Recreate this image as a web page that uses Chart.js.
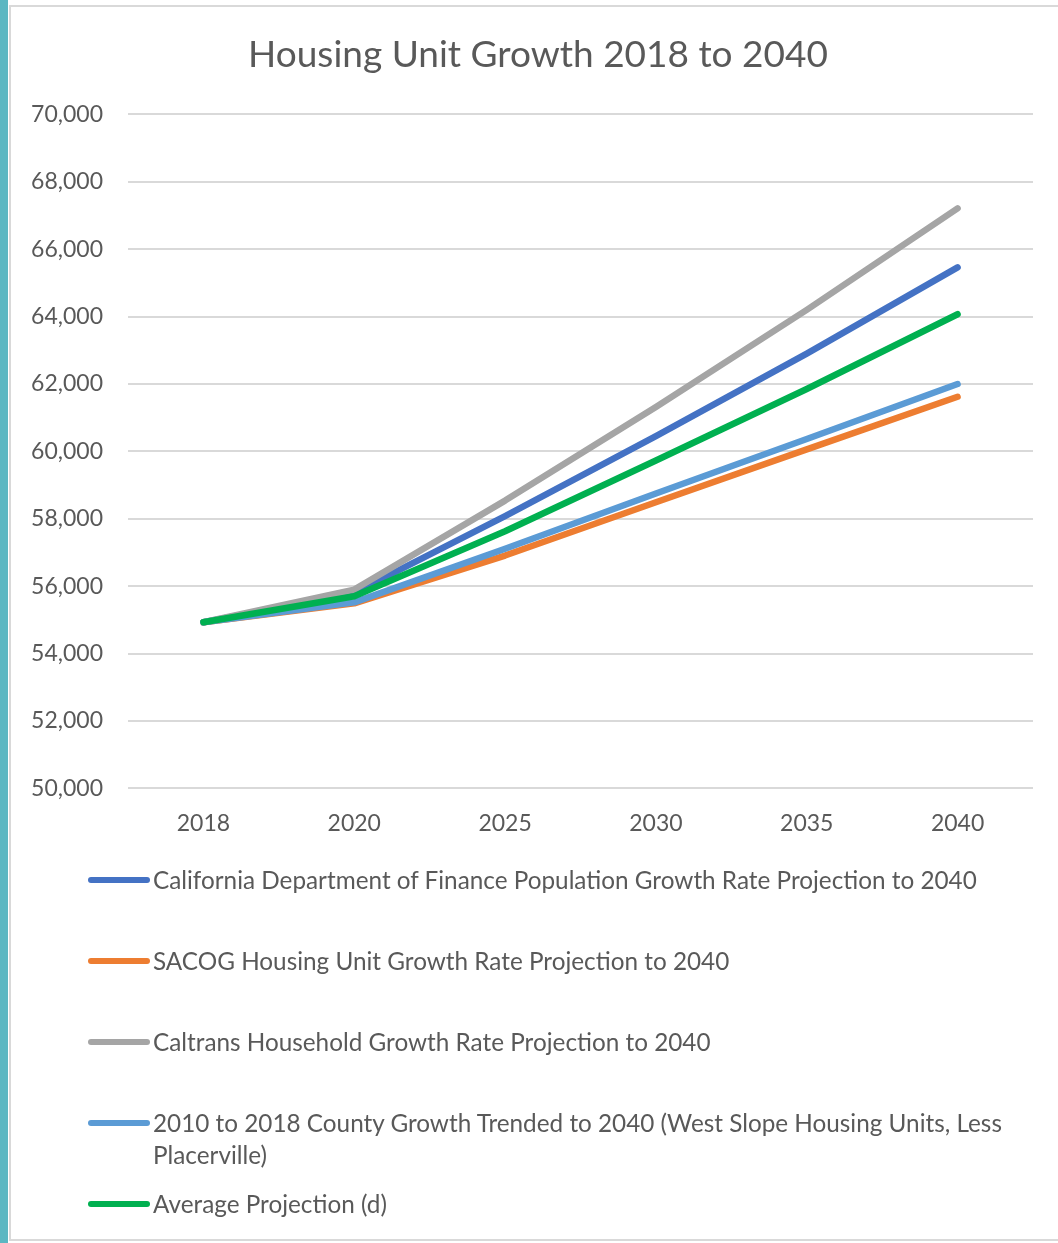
<!DOCTYPE html>
<html><head><meta charset="utf-8">
<script src="https://cdn.jsdelivr.net/npm/chart.js@4"></script>
<style>
html,body{margin:0;padding:0;background:#fff;}
body{width:1058px;height:1243px;position:relative;overflow:hidden;font-family:Lato, sans-serif;}
#teal{position:absolute;left:0;top:0;width:8px;height:1243px;background:#5bb7c2;}
#frame{position:absolute;left:9px;top:5px;width:1100px;height:1232px;border:2px solid #d9d9d9;border-right:none;}
#chart{position:absolute;left:0;top:0;}
#legend{position:absolute;left:0;top:864px;width:1058px;}
.item{position:relative;height:81px;}
.sw{position:absolute;left:88px;top:13px;width:62px;height:6px;border-radius:3px;}
.txt{position:absolute;left:153px;top:0;width:875px;font-size:24.3px;line-height:32px;color:#595959;}
</style></head>
<body>
<div id="teal"></div>
<div id="frame"></div>
<canvas id="chart" width="1064" height="876"></canvas>
<div id="legend"></div>
<script>
const years = ['2018','2020','2025','2030','2035','2040'];
const dofValues      = [54930, 55800, 58080, 60450, 62900, 65460];
const sacogValues    = [54930, 55490, 56910, 58490, 60060, 61620];
const caltransValues = [54930, 55900, 58540, 61320, 64200, 67210];
const trendValues    = [54930, 55520, 57110, 58750, 60370, 62000];
const averageValues  = [54930, 55700, 57630, 59730, 61850, 64070];
const seriesLabels = [
  'California Department of Finance Population Growth Rate Projection to 2040',
  'SACOG Housing Unit Growth Rate Projection to 2040',
  'Caltrans Household Growth Rate Projection to 2040',
  '2010 to 2018 County Growth Trended to 2040 (West Slope Housing Units, Less Placerville)',
  'Average Projection (d)'
];
const seriesColors = ['#4472C4','#ED7D31','#A5A5A5','#5B9BD5','#00B050'];
const seriesValues = [dofValues, sacogValues, caltransValues, trendValues, averageValues];
const yMin = 50000, yMax = 70000, yStep = 2000;
const titleText = 'Housing Unit Growth 2018 to 2040';

const FONT = 'Lato';
const datasets = seriesValues.map((v,i)=>({
  label: seriesLabels[i],
  data: v,
  borderColor: seriesColors[i],
  backgroundColor: seriesColors[i],
  borderWidth: 6.5,
  borderCapStyle: 'round',
  borderJoinStyle: 'round',
  pointRadius: 0,
  fill: false,
  tension: 0,
  yAxisID: 'y',
  order: seriesValues.length - i
}));

new Chart(document.getElementById('chart'), {
  type: 'line',
  data: { labels: years, datasets },
  options: {
    responsive: false,
    animation: false,
    devicePixelRatio: 1,
    layout: { padding: { left: 12, right: 0, top: 0, bottom: 26 } },
    plugins: {
      legend: { display: false },
      tooltip: { enabled: false },
      title: {
        display: true, text: titleText, color: '#595959',
        font: { family: FONT, size: 37, weight: 'normal' },
        padding: { top: 33, bottom: 37 }
      }
    },
    scales: {
      x: {
        offset: true,
        grid: { display: false },
        border: { display: false },
        ticks: { color: '#595959', font: { family: FONT, size: 23 }, padding: 13, maxRotation: 0 }
      },
      y: {
        min: yMin, max: yMax,
        afterFit: (s) => { s.width = 116; },
        grid: { color: '#d9d9d9', lineWidth: 2, drawTicks: false },
        border: { display: false },
        ticks: {
          stepSize: yStep, color: '#595959', padding: 25,
          font: { family: FONT, size: 23 },
          callback: (v) => v.toLocaleString('en-US')
        }
      },
      spacer: {
        type: 'linear', position: 'right',
        min: yMin, max: yMax,
        afterFit: (s) => { s.width = 31; },
        grid: { display: false },
        border: { display: false },
        ticks: { display: false }
      }
    }
  }
});

const legend = document.getElementById('legend');
datasets.forEach(d => {
  const item = document.createElement('div'); item.className = 'item';
  const sw = document.createElement('div'); sw.className = 'sw'; sw.style.background = d.borderColor;
  const tx = document.createElement('div'); tx.className = 'txt'; tx.textContent = d.label;
  item.appendChild(sw); item.appendChild(tx); legend.appendChild(item);
});
</script>
</body></html>
